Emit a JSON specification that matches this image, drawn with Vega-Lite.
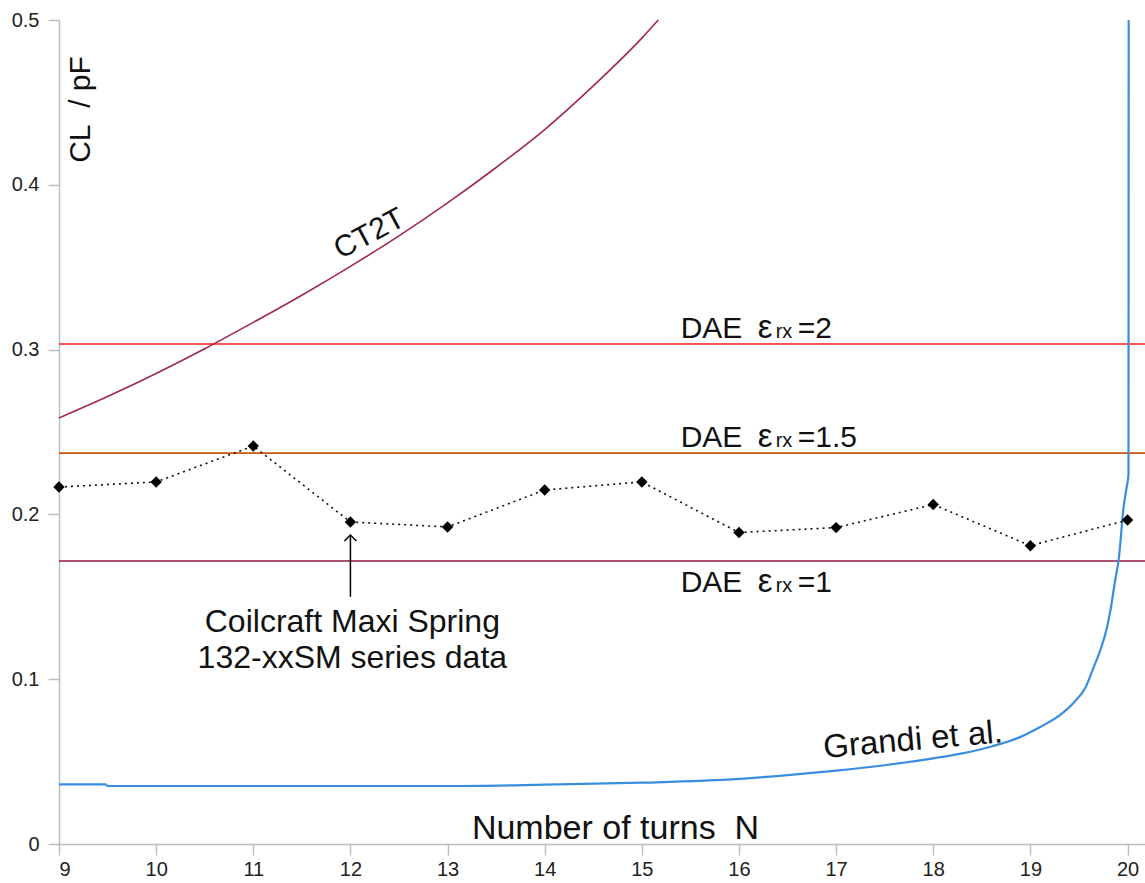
{
  "$schema": "https://vega.github.io/schema/vega-lite/v6.json",
  "width": 1086,
  "height": 824,
  "autosize": {"type": "none"},
  "padding": {"left": 59, "top": 20, "right": 0, "bottom": 39},
  "background": "white",
  "config": {
    "view": {"stroke": null},
    "font": "Liberation Sans",
    "axis": {
      "grid": false,
      "domainColor": "#BDBDBD",
      "domainWidth": 1.5,
      "tickColor": "#BDBDBD",
      "tickWidth": 1.5,
      "tickSize": 11,
      "labelFont": "Liberation Sans",
      "labelFontSize": 20,
      "labelColor": "#222222",
      "titleFont": "Liberation Sans",
      "titleFontSize": 30,
      "titleFontWeight": "normal",
      "titleColor": "#111111"
    }
  },
  "datasets": {
    "ct2t": [
      {"N": 9.0, "C": 0.2585},
      {"N": 9.5, "C": 0.2715},
      {"N": 10.0, "C": 0.2855},
      {"N": 10.5, "C": 0.3005},
      {"N": 11.0, "C": 0.3165},
      {"N": 11.5, "C": 0.333},
      {"N": 12.0, "C": 0.3505},
      {"N": 12.5, "C": 0.369},
      {"N": 13.0, "C": 0.389},
      {"N": 13.5, "C": 0.4105},
      {"N": 14.0, "C": 0.4335},
      {"N": 14.5, "C": 0.46},
      {"N": 15.0, "C": 0.489},
      {"N": 15.17, "C": 0.5}
    ],
    "grandi": [
      {"N": 9.0, "C": 0.0362},
      {"N": 9.48, "C": 0.0362},
      {"N": 9.5, "C": 0.0352},
      {"N": 13.0, "C": 0.0352},
      {"N": 14.0, "C": 0.036},
      {"N": 15.0, "C": 0.0372},
      {"N": 16.0, "C": 0.0395},
      {"N": 16.5, "C": 0.0418},
      {"N": 17.0, "C": 0.0445},
      {"N": 17.5, "C": 0.0478},
      {"N": 18.0, "C": 0.052},
      {"N": 18.3, "C": 0.055},
      {"N": 18.6, "C": 0.0592},
      {"N": 18.9, "C": 0.065},
      {"N": 19.1, "C": 0.071},
      {"N": 19.3, "C": 0.078},
      {"N": 19.45, "C": 0.086},
      {"N": 19.57, "C": 0.0953},
      {"N": 19.65, "C": 0.107},
      {"N": 19.72, "C": 0.1177},
      {"N": 19.79, "C": 0.1317},
      {"N": 19.83, "C": 0.1438},
      {"N": 19.87, "C": 0.159},
      {"N": 19.91, "C": 0.173},
      {"N": 19.96, "C": 0.2045},
      {"N": 19.99, "C": 0.216},
      {"N": 20.01, "C": 0.224},
      {"N": 20.012, "C": 0.5}
    ],
    "coilcraft": [
      {"N": 9, "C": 0.2166},
      {"N": 10, "C": 0.2197},
      {"N": 11, "C": 0.2415},
      {"N": 12, "C": 0.1954},
      {"N": 13, "C": 0.1924},
      {"N": 14, "C": 0.2148},
      {"N": 15, "C": 0.2197},
      {"N": 16, "C": 0.189},
      {"N": 17, "C": 0.192},
      {"N": 18, "C": 0.206},
      {"N": 19, "C": 0.181},
      {"N": 20, "C": 0.1966}
    ],
    "dae": [
      {"eps": "2", "N": 9, "Nend": 20.18, "C": 0.3034},
      {"eps": "1.5", "N": 9, "Nend": 20.18, "C": 0.2372},
      {"eps": "1", "N": 9, "Nend": 20.18, "C": 0.1717}
    ],
    "daeLabels": [
      {"eps": "2", "N": 15.4, "C": 0.307, "tail": "=2"},
      {"eps": "1.5", "N": 15.4, "C": 0.241, "tail": "=1.5"},
      {"eps": "1", "N": 15.4, "C": 0.153, "tail": "=1"}
    ],
    "arrow": [
      {"N": 12, "C": 0.15, "Ctip": 0.1875}
    ]
  },
  "encoding": {
    "x": {
      "field": "N",
      "type": "quantitative",
      "scale": {"domain": [9, 20.18], "nice": false, "zero": false},
      "axis": {
        "values": [9, 10, 11, 12, 13, 14, 15, 16, 17, 18, 19, 20],
        "format": "d",
        "labelPadding": 4,
        "title": "Number of turns\u00a0\u00a0N",
        "titleFontSize": 34,
        "titleX": 556,
        "titleY": -6,
        "titleAlign": "center",
        "titleBaseline": "alphabetic"
      }
    },
    "y": {
      "field": "C",
      "type": "quantitative",
      "scale": {"domain": [0, 0.5], "nice": false, "zero": false},
      "axis": {
        "values": [0, 0.1, 0.2, 0.3, 0.4, 0.5],
        "format": ".1~f",
        "labelPadding": 9,
        "title": "CL\u00a0\u00a0/\u00a0pF",
        "titleAngle": -90,
        "titleX": 30,
        "titleY": 89,
        "titleAlign": "center",
        "titleBaseline": "alphabetic"
      }
    }
  },
  "layer": [
    {
      "data": {"name": "dae"},
      "mark": {"type": "rule", "strokeWidth": 1.6},
      "encoding": {
        "x2": {"field": "Nend"},
        "color": {
          "field": "eps",
          "type": "nominal",
          "legend": null,
          "scale": {"domain": ["2", "1.5", "1"], "range": ["#FF1A1A", "#CC5511", "#8E1A40"]}
        }
      }
    },
    {
      "data": {"name": "ct2t"},
      "mark": {"type": "line", "color": "#A3284F", "strokeWidth": 1.6, "interpolate": "monotone"},
      "encoding": {}
    },
    {
      "data": {"name": "grandi"},
      "mark": {"type": "line", "color": "#3A8EDE", "strokeWidth": 2.2, "interpolate": "monotone"},
      "encoding": {}
    },
    {
      "data": {"name": "coilcraft"},
      "mark": {"type": "line", "color": "#111111", "strokeWidth": 1.6, "strokeDash": [2, 4]},
      "encoding": {}
    },
    {
      "data": {"name": "coilcraft"},
      "mark": {"type": "point", "shape": "diamond", "filled": true, "color": "#000000", "size": 130, "opacity": 1},
      "encoding": {}
    },
    {
      "data": {"name": "arrow"},
      "mark": {"type": "rule", "color": "#000000", "strokeWidth": 1.5},
      "encoding": {"y2": {"field": "Ctip"}}
    },
    {
      "data": {"name": "arrow"},
      "mark": {"type": "point", "shape": "M-1,1L0,0L1,1", "filled": false, "color": "#000000", "strokeWidth": 1.5, "size": 144, "opacity": 1},
      "encoding": {"y": {"field": "Ctip", "type": "quantitative"}}
    },
    {
      "data": {"values": [{"N": 12.02, "C": 0.1286, "note": "Coilcraft Maxi Spring\n132-xxSM series data"}]},
      "mark": {"type": "text", "align": "center", "baseline": "alphabetic", "fontSize": 32, "lineHeight": 36, "lineBreak": "\n", "color": "#111111"},
      "encoding": {"text": {"field": "note"}}
    },
    {
      "data": {"values": [{"N": 12.24, "C": 0.3653, "note": "CT2T"}]},
      "mark": {"type": "text", "align": "center", "baseline": "alphabetic", "fontSize": 30, "angle": -28, "color": "#111111"},
      "encoding": {"text": {"field": "note"}}
    },
    {
      "data": {"values": [{"N": 17.8, "C": 0.057, "note": "Grandi et al."}]},
      "mark": {"type": "text", "align": "center", "baseline": "alphabetic", "fontSize": 33, "angle": -5, "color": "#111111"},
      "encoding": {"text": {"field": "note"}}
    },
    {
      "data": {"name": "daeLabels"},
      "mark": {"type": "text", "align": "left", "baseline": "alphabetic", "fontSize": 30, "color": "#111111"},
      "encoding": {"text": {"value": "DAE"}}
    },
    {
      "data": {"name": "daeLabels"},
      "mark": {"type": "text", "align": "left", "baseline": "alphabetic", "fontSize": 33, "dx": 77, "color": "#111111"},
      "encoding": {"text": {"value": "ε"}}
    },
    {
      "data": {"name": "daeLabels"},
      "mark": {"type": "text", "align": "left", "baseline": "alphabetic", "fontSize": 20, "dx": 95, "color": "#111111"},
      "encoding": {"text": {"value": "rx"}}
    },
    {
      "data": {"name": "daeLabels"},
      "mark": {"type": "text", "align": "left", "baseline": "alphabetic", "fontSize": 30, "dx": 117, "color": "#111111"},
      "encoding": {"text": {"field": "tail"}}
    }
  ]
}
